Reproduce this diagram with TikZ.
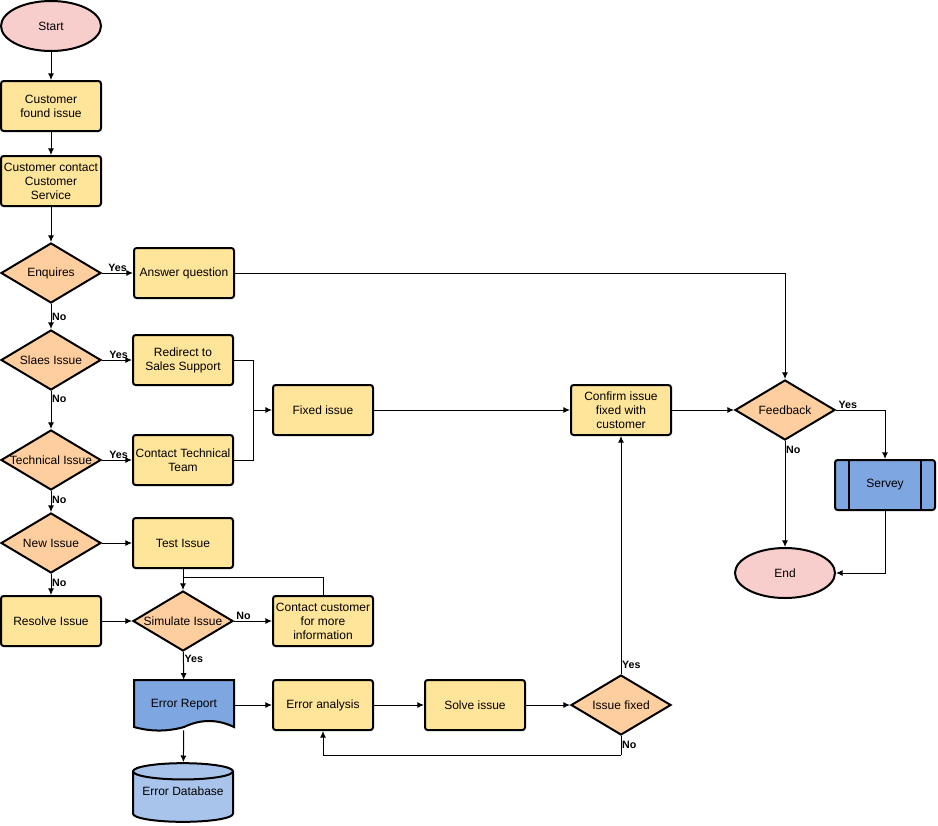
\documentclass[tikz,border=0pt]{standalone}
\usepackage{xcolor}
\usepackage{fontspec}
\setmainfont{Liberation Sans}
\usepackage{tikz}
\usetikzlibrary{calc}
\usetikzlibrary{arrows.meta}
\usetikzlibrary{shapes}
\usetikzlibrary{shapes.geometric}
\usetikzlibrary{positioning}

\definecolor{yelfill}{HTML}{FFE599}
\definecolor{orfill}{HTML}{FFCE9F}
\definecolor{pinkfill}{HTML}{F8CECC}
\definecolor{bluefill}{HTML}{7EA6E0}
\definecolor{dbfill}{HTML}{A9C4EB}

\newcommand{\dtxt}[1]{\makebox[0pt]{#1}}

\tikzset{>=latex}
\tikzstyle{term} = [ellipse, draw, line width=1.5pt, fill=pinkfill, minimum width=75pt, minimum height=37.5pt, inner sep=0]
\tikzstyle{proc} = [rectangle, draw, line width=1.5pt, rounded corners=2pt, fill=yelfill, minimum width=75pt, minimum height=37.5pt, align=center, inner sep=0]
\tikzstyle{decide} = [diamond, draw, line width=1.5pt, fill=orfill, minimum width=75pt, minimum height=45pt, inner sep=0]
\tikzstyle{subproc} = [proc, fill=bluefill, path picture={
    \draw [line width=1.5pt] ([xshift=10.5pt]path picture bounding box.north west) -- ([xshift=10.5pt]path picture bounding box.south west);
    \draw [line width=1.5pt] ([xshift=-10.5pt]path picture bounding box.north east) -- ([xshift=-10.5pt]path picture bounding box.south east);}]
\tikzstyle{store} = [cylinder, shape border rotate=90, aspect=0.2, draw, line width=1.5pt, fill=dbfill, minimum width=75pt, minimum height=44pt, inner sep=0, anchor=shape center]
\tikzstyle{lbl} = [draw=none, font=\fontsize{8}{9}\selectfont\bfseries, inner sep=0.5pt]
\tikzstyle{arr} = [-{Latex[length=5pt, width=4.5pt]}, line width=0.75pt]

\begin{document}
\begin{tikzpicture}[x=0.75pt, y=-0.75pt, font=\fontsize{9}{10.5}\selectfont]
\useasboundingbox (0,0) rectangle (938,825);

% left column
\node [term] (start) at (51, 26) {Start};
\node [proc] (found) at (51, 106) {Customer\\found issue};
\node [proc] (contact) at (51, 181) {Customer contact\\Customer\\Service};
\node [decide] (enq) at (51, 273) {\dtxt{Enquires}};
\node [decide] (slaes) at (51, 360) {\dtxt{Slaes Issue}};
\node [decide] (tech) at (51, 460) {\dtxt{Technical Issue}};
\node [decide] (newi) at (51, 543) {\dtxt{New Issue}};
\node [proc] (resolve) at (51, 621) {Resolve Issue};

% second column
\node [proc] (ansq) at (184, 273) {Answer question};
\node [proc] (redir) at (183, 360) {Redirect to\\Sales Support};
\node [proc] (ctech) at (183, 460) {Contact Technical\\Team};
\node [proc] (test) at (183, 543) {Test Issue};
\node [decide] (sim) at (183, 621) {\dtxt{Simulate Issue}};
\draw [line width=1.5pt, fill=bluefill] (134,680) -- (234,680) -- (234,727)
  .. controls (217.3,719) and (200.7,719) .. (184,727)
  .. controls (167.3,731.7) and (150.7,731.7) .. (134,727) -- cycle;
\node [draw=none, minimum width=75pt, minimum height=37.5pt, inner sep=0] (errrep) at (184, 705) {Error Report};
\node [store] (errdb) at (183, 792.5) {\smash{\raisebox{1.5pt}{Error Database}}};

% third column and on
\node [proc] (fixed) at (323, 410) {Fixed issue};
\node [proc] (contcust) at (323, 621) {Contact customer\\for more\\information};
\node [proc] (erran) at (323, 705) {Error analysis};
\node [proc] (solve) at (475, 705) {Solve issue};
\node [decide] (fixd) at (621, 705) {\dtxt{Issue fixed}};
\node [proc] (conf) at (621, 410) {Confirm issue\\fixed with\\customer};
\node [decide] (fb) at (785, 410) {\dtxt{Feedback}};
\node [subproc] (servey) at (885, 485) {Servey};
\node [term] (end) at (785, 573) {End};

\coordinate (join) at (253, 410);
\coordinate (merge) at (183, 577);
\coordinate (back) at (621, 755);

\draw [arr] (start) to (found);
\draw [arr] (found) to (contact);
\draw [arr] (contact) to (enq);
\draw [arr] (enq) to node [lbl, above] {Yes} (ansq);
\draw [arr] (enq) to node [lbl, right, pos=0.5] {No} (slaes);
\draw [arr] (slaes) to node [lbl, above, pos=0.55] {Yes} (redir);
\draw [arr] (slaes) to node [lbl, right, pos=0.2] {No} (tech);
\draw [arr] (tech) to node [lbl, above, pos=0.55] {Yes} (ctech);
\draw [arr] (tech) to node [lbl, right, pos=0.4] {No} (newi);
\draw [arr] (newi) to (test);
\draw [arr] (newi) to node [lbl, right, pos=0.4] {No} (resolve);
\draw [arr] (ansq) -| (fb);
\draw [line width=0.75pt] (redir) -| (join);
\draw [line width=0.75pt] (ctech) -| (join);
\draw [arr] (join) to (fixed);
\draw [arr] (fixed) to (conf);
\draw [arr] (conf) to (fb);
\draw [arr] (fb) -| node [lbl, above, pos=0.12] {Yes} (servey);
\draw [arr] (fb) to node [lbl, right, pos=0.08] {No} (end);
\draw [arr] (servey) |- (end);
\draw [arr] (test) to (sim);
\draw [line width=0.75pt] (contcust) |- (merge);
\draw [arr] (resolve) to (sim);
\draw [arr] (sim) to node [lbl, above, pos=0.25] {No} (contcust);
\draw [arr] (sim) to node [lbl, right, pos=0.25] {Yes} (errrep);
\draw [arr] (errrep) to (errdb);
\draw [arr] (errrep) to (erran);
\draw [arr] (erran) to (solve);
\draw [arr] (solve) to (fixd);
\draw [arr] (fixd) to node [lbl, right, pos=0.04] {Yes} (conf);
\draw [line width=0.75pt] (fixd) to node [lbl, right, pos=0.45] {No} (back);
\draw [arr] (back) -| (erran);
\end{tikzpicture}
\end{document}
